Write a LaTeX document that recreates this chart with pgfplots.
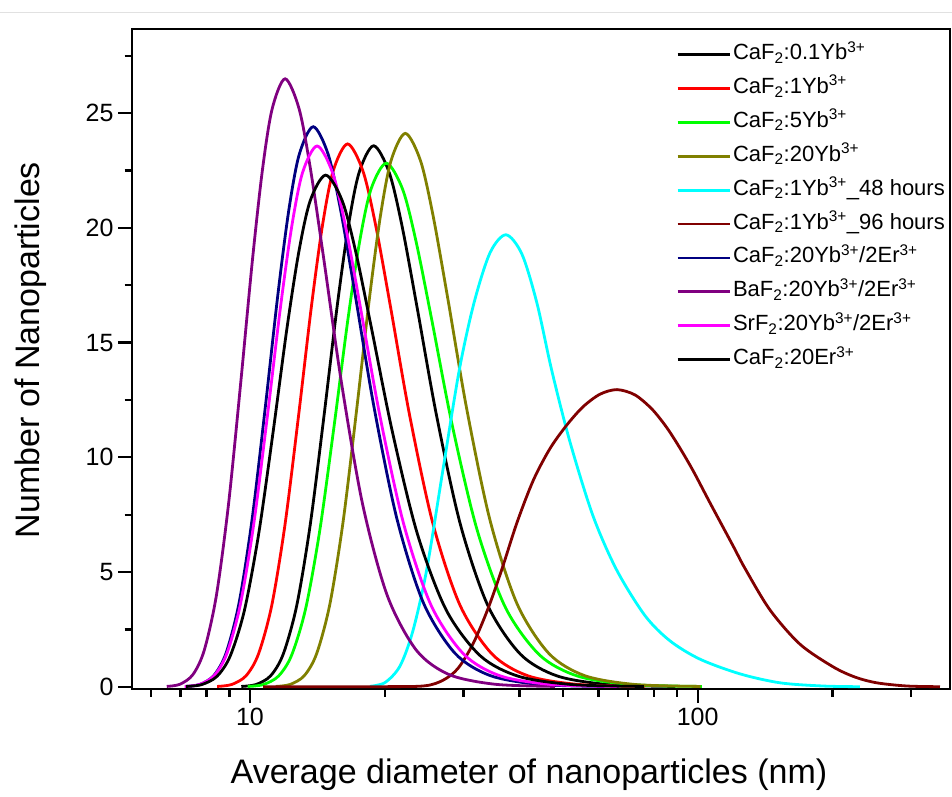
\documentclass[border=0pt]{standalone}
\usepackage{pgfplots}
\pgfplotsset{compat=1.18}
\usepackage{fontspec}
\setmainfont{Liberation Sans}
\definecolor{cBlack}{RGB}{0,0,0}
\definecolor{cRed}{RGB}{255,0,0}
\definecolor{cGreen}{RGB}{0,255,0}
\definecolor{cOlive}{RGB}{128,128,0}
\definecolor{cCyan}{RGB}{0,255,255}
\definecolor{cBrown}{RGB}{128,0,0}
\definecolor{cNavy}{RGB}{0,0,128}
\definecolor{cPurple}{RGB}{128,0,128}
\definecolor{cMagenta}{RGB}{255,0,255}
\definecolor{cTopLine}{RGB}{225,225,225}
\pgfplotsset{curve/.style={line width=2.8pt, smooth},
  every axis/.append style={line width=2.5pt},
  every tick/.append style={line width=2.3pt, black}}
\begin{document}
\begin{tikzpicture}[x=1pt,y=1pt]
\useasboundingbox (0,0) rectangle (952,796);
\draw[cTopLine, line width=1pt] (0,783.3) -- (952,783.3);
\begin{axis}[
  at={(132pt,107pt)}, anchor=south west,
  scale only axis, width=818pt, height=660pt,
  xmode=log, xmin=5.451, xmax=366.1, ymin=-0.1, ymax=28.67,
  xtick={10,100}, xticklabels={10,100},
  minor xtick={6,7,8,9,20,30,40,50,60,70,80,90,200,300},
  ytick={0,5,10,15,20,25}, minor ytick={2.5,7.5,12.5,17.5,22.5,27.5},
  tick pos=left, tick align=outside,
  major tick length=14pt, minor tick length=7.5pt,
  axis line style={line width=2.5pt, black},
  tick style={line width=2.3pt, black},
  /pgf/number format/assume math mode=true,
  tick label style={font=\fontsize{25}{30}\selectfont},
  xlabel={Average diameter of nanoparticles (nm)},
  ylabel={Number of Nanoparticles},
  xlabel style={at={(axis description cs:0.4853,-0.1439)}, anchor=base, font=\fontsize{34}{40}\selectfont},
  ylabel style={at={(axis description cs:-0.1125,0.5136)}, anchor=base, font=\fontsize{34}{40}\selectfont},
  legend style={draw=none, fill=none, at={(axis description cs:0.6638,0.9829)}, anchor=north west,
    inner sep=0pt, row sep=7.9pt,
    nodes={inner sep=2pt, text height=16pt, text depth=6pt, font=\fontsize{22}{26}\selectfont}},
  legend cell align=left,
  legend image code/.code={\draw[#1, line width=2.8pt] (0pt,0pt) -- (52pt,0pt);},
]
\addplot[cBlack, curve] coordinates {(9.562,0.012) (10.311,0.094) (11.114,0.472) (11.862,1.415) (12.718,3.537) (13.636,7.074) (14.630,11.79) (15.640,16.506) (16.575,20.043) (17.521,22.401) (18.893,23.58) (20.473,22.401) (21.881,20.043) (23.633,16.506) (26.122,11.79) (29.510,7.074) (33.989,3.537) (40.195,1.415) (48.496,0.472) (63.246,0.094) (89.14,0.012)};
\addlegendentry{CaF\textsubscript{2}:0.1Yb\textsuperscript{3+}}
\addplot[cRed, curve] coordinates {(8.446,0.012) (9.098,0.095) (9.795,0.473) (10.444,1.42) (11.186,3.549) (11.980,7.098) (12.841,11.83) (13.712,16.562) (14.519,20.111) (15.337,22.477) (16.52,23.66) (17.88,22.477) (19.09,20.111) (20.60,16.562) (22.73,11.83) (25.63,7.098) (29.46,3.549) (34.75,1.42) (41.81,0.473) (54.33,0.095) (76.17,0.012)};
\addlegendentry{CaF\textsubscript{2}:1Yb\textsuperscript{3+}}
\addplot[cGreen, curve] coordinates {(9.884,0.011) (10.696,0.091) (11.569,0.456) (12.385,1.369) (13.322,3.423) (14.328,6.846) (15.424,11.41) (16.539,15.974) (17.576,19.397) (18.628,21.679) (20.16,22.82) (21.93,21.679) (23.50,19.397) (25.48,15.974) (28.29,11.41) (32.15,6.846) (37.27,3.423) (44.42,1.369) (54.07,0.456) (71.39,0.091) (102.2,0.011)};
\addlegendentry{CaF\textsubscript{2}:5Yb\textsuperscript{3+}}
\addplot[cOlive, curve] coordinates {(11.413,0.012) (12.288,0.096) (13.223,0.482) (14.094,1.447) (15.088,3.618) (16.155,7.236) (17.304,12.06) (18.471,16.884) (19.554,20.502) (20.646,22.914) (22.23,24.12) (24.05,22.914) (25.66,20.502) (27.68,16.884) (30.52,12.06) (34.39,7.236) (39.49,3.618) (46.53,1.447) (55.94,0.482) (72.53,0.096) (101.5,0.012)};
\addlegendentry{CaF\textsubscript{2}:20Yb\textsuperscript{3+}}
\addplot[cCyan, curve] coordinates {(18.54,0.018) (20.02,0.18) (21.63,0.9) (23.12,2.44) (24.81,5.09) (26.98,9.46) (29.34,13.8) (31.65,16.73) (34.36,18.91) (37.31,19.7) (40.51,18.85) (43.76,16.71) (47.19,13.8) (51.85,10.67) (58.36,7.45) (65.92,5.09) (76.26,3.1) (86.71,2.0) (101.19,1.2) (124.3,0.56) (152.7,0.17) (190.5,0.03) (230.4,0)};
\addlegendentry{CaF\textsubscript{2}:1Yb\textsuperscript{3+}\_48 hours}
\addplot[cBrown, curve] coordinates {(10.7,0) (20,0.002) (24.60,0.04) (27.03,0.29) (29.15,0.8) (31.53,1.89) (34.01,3.4) (36.49,5.09) (39.48,7.15) (42.94,9.0) (46.78,10.38) (50.98,11.4) (55.44,12.2) (60.50,12.75) (66.03,12.95) (72.43,12.72) (79.05,12.10) (85.26,11.30) (91.29,10.40) (97.76,9.40) (106.5,8.02) (120.1,6.12) (127.6,5.15) (145.0,3.35) (169.3,1.85) (200.5,0.87) (224.6,0.42) (251.1,0.17) (293.5,0.03) (347.7,0)};
\addlegendentry{CaF\textsubscript{2}:1Yb\textsuperscript{3+}\_96 hours}
\addplot[cNavy, curve] coordinates {(7.183,0.012) (7.725,0.098) (8.303,0.488) (8.842,1.465) (9.456,3.662) (10.113,7.323) (10.823,12.205) (11.542,17.087) (12.205,20.749) (12.878,23.19) (13.847,24.41) (14.96,23.19) (15.95,20.749) (17.18,17.087) (18.92,12.205) (21.29,7.323) (24.39,3.662) (28.68,1.465) (34.36,0.488) (44.38,0.098) (61.78,0.012)};
\addlegendentry{CaF\textsubscript{2}:20Yb\textsuperscript{3+}/2Er\textsuperscript{3+}}
\addplot[cPurple, curve] coordinates {(6.519,0.013) (6.974,0.106) (7.458,0.53) (7.905,1.59) (8.413,3.975) (8.954,7.95) (9.535,13.25) (10.121,18.55) (10.661,22.525) (11.204,25.175) (11.98,26.5) (12.88,25.175) (13.66,22.525) (14.64,18.55) (16.01,13.25) (17.85,7.95) (20.26,3.975) (23.53,1.59) (27.84,0.53) (35.30,0.106) (47.97,0.013)};
\addlegendentry{BaF\textsubscript{2}:20Yb\textsuperscript{3+}/2Er\textsuperscript{3+}}
\addplot[cMagenta, curve] coordinates {(7.147,0.012) (7.707,0.094) (8.307,0.471) (8.866,1.414) (9.506,3.536) (10.192,7.071) (10.935,11.785) (11.690,16.499) (12.389,20.035) (13.096,22.392) (14.121,23.57) (15.30,22.392) (16.36,20.035) (17.66,16.499) (19.52,11.785) (22.06,7.071) (25.40,3.536) (30.04,1.414) (36.25,0.471) (47.27,0.094) (66.64,0.012)};
\addlegendentry{SrF\textsubscript{2}:20Yb\textsuperscript{3+}/2Er\textsuperscript{3+}}
\addplot[cBlack, curve] coordinates {(7.195,0.011) (7.792,0.089) (8.433,0.446) (9.033,1.338) (9.722,3.345) (10.463,6.69) (11.271,11.15) (12.091,15.61) (12.856,18.955) (13.631,21.185) (14.76,22.3) (16.07,21.185) (17.23,18.955) (18.69,15.61) (20.78,11.15) (23.63,6.69) (27.43,3.345) (32.73,1.338) (39.91,0.446) (52.82,0.089) (75.85,0.012)};
\addlegendentry{CaF\textsubscript{2}:20Er\textsuperscript{3+}}
\end{axis}
\end{tikzpicture}
\end{document}
